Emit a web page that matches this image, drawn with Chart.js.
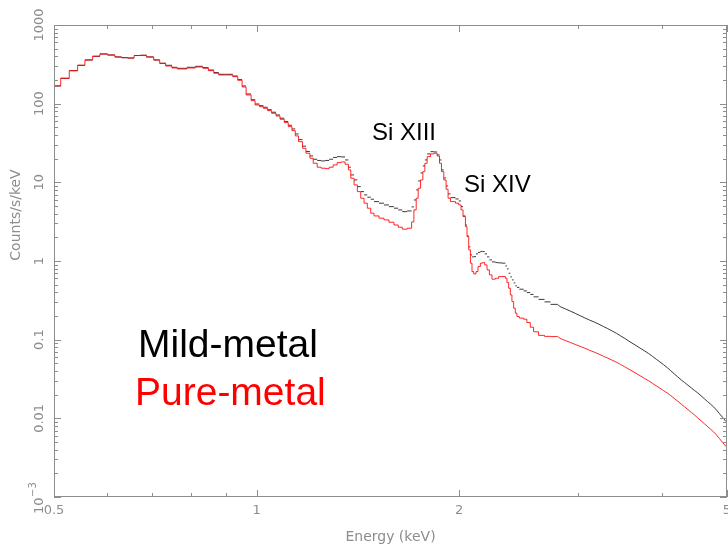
<!DOCTYPE html>
<html>
<head>
<meta charset="utf-8">
<script src="https://cdn.jsdelivr.net/npm/chart.js@4.4.1/dist/chart.umd.min.js"></script>
<style>
  body { margin: 0; background: #fff; }
  canvas { display: block; }
</style>
</head>
<body>
<canvas id="myChart" width="728" height="547"></canvas>
<script>
// bin edges in keV (one more than the values)
const energyEdges = [
  0.500, 0.5116, 0.5268, 0.5421, 0.5558, 0.5706, 0.5850, 0.6006, 0.6157, 0.6299,
  0.6436, 0.6576, 0.6716, 0.6860, 0.7032, 0.7178, 0.7326, 0.7485, 0.7625, 0.7750,
  0.7878, 0.8107, 0.8320, 0.8484, 0.8639, 0.8787, 0.8990, 0.9217, 0.9376, 0.9517,
  0.9648, 0.9814, 0.9949, 1.0096, 1.0235, 1.0386, 1.0528, 1.0688, 1.0834, 1.0994,
  1.1145, 1.1287, 1.1415, 1.1544, 1.1702, 1.1839, 1.2001, 1.2137, 1.2304, 1.2473,
  1.2644, 1.2818, 1.2994, 1.3172, 1.3353, 1.3537, 1.3690, 1.3802, 1.3959, 1.4117,
  1.4281, 1.4443, 1.4606, 1.4777, 1.4944, 1.5201, 1.5463, 1.5729, 1.5999, 1.6236,
  1.6459, 1.6742, 1.6995, 1.7129, 1.7264, 1.7382, 1.7525, 1.7663, 1.7784, 1.7924,
  1.8133, 1.8338, 1.8545, 1.8698, 1.8826, 1.8974, 1.9123, 1.9254, 1.9413, 1.9747,
  1.9970, 2.0127, 2.0265, 2.0432, 2.0544, 2.0663, 2.0783, 2.0897, 2.1019, 2.1184,
  2.1329, 2.1504, 2.1674, 2.1826, 2.1998, 2.2178, 2.2376, 2.2637, 2.2893, 2.3152,
  2.3422, 2.3551, 2.3688, 2.3825, 2.3956, 2.4095, 2.4235, 2.4368, 2.4568, 2.4931,
  2.5213, 2.5507, 2.5796, 2.6240, 2.6783, 2.7337, 2.80,
  2.85, 2.90, 2.95, 3.00, 3.05, 3.10, 3.15, 3.20, 3.25, 3.30,
  3.35, 3.40, 3.45, 3.50, 3.55, 3.60, 3.65, 3.70, 3.75, 3.80,
  3.85, 3.90, 3.95, 4.00, 4.05, 4.10, 4.15, 4.20, 4.25, 4.30,
  4.35, 4.40, 4.45, 4.50, 4.55, 4.60, 4.65, 4.70, 4.75, 4.80,
  4.85, 4.90, 4.95, 5.00
];
// above this edge the bins are narrow and the spectra look like smooth curves
const tailStart = 2.80;

// counts/s/keV per bin
const pureMetal = [
  167.9, 210.2, 262.6, 307.5, 359.2, 400.3, 428.1, 415.7, 392.2, 384.2,
  380, 409.7, 412.1, 392.2, 359.2, 326.1, 301.3, 284.2, 276.0, 276.0,
  284.2, 292.6, 281.7, 262.6, 243.4, 231.6, 231.6, 220.3, 198.3, 163.0,
  129.0, 109.2, 96.3, 91.6, 87.4, 81.5, 75.5, 69.8, 63.4, 57.4,
  51.0, 45.4, 38.9, 32.9, 27.1,
  23.43, 20.24, 17.48, 15.56, 15.11, 14.93, 15.56, 16.64, 17.80, 18.16,
  16.98, 14.38, 11.27, 9.27, 7.62, 6.28, 5.43, 4.69, 4.05, 3.74,
  3.50, 3.33, 3.11, 2.87, 2.69, 2.54, 2.61, 3.14, 4.46, 6.28,
  8.41, 10.73, 13.68, 17.48, 21.21, 22.96, 23.43, 21.65, 17.48, 13.68,
  10.73, 8.17, 6.28, 5.69, 5.43, 5.16, 4.46, 3.67, 2.74, 2.04,
  1.384, 0.938, 0.733, 0.686, 0.733, 0.849, 0.938, 0.954, 0.892, 0.771,
  0.666, 0.587, 0.604, 0.634, 0.634, 0.604, 0.531, 0.451, 0.371, 0.305,
  0.251, 0.217, 0.197, 0.188, 0.182, 0.165, 0.144, 0.126, 0.1134, 0.1101,
  0.1095,
  0.1039, 0.0977, 0.0921, 0.0869, 0.0822, 0.0778, 0.0733, 0.0694, 0.0656, 0.0617,
  0.0582, 0.0549, 0.0518, 0.0483, 0.0451, 0.0421, 0.0393, 0.0367, 0.0343, 0.0320,
  0.0300, 0.0278, 0.0259, 0.0242, 0.0225, 0.0210, 0.0194, 0.0179, 0.0165, 0.0152,
  0.0140, 0.0129, 0.0119, 0.0110, 0.0101, 0.00932, 0.00857, 0.00791, 0.00729, 0.00674,
  0.00613, 0.00550, 0.00495, 0.00445
];

const mildMetal = [
  167.9, 210.2, 262.6, 307.5, 359.2, 400.3, 428.1, 415.7, 392.2, 384.2,
  380, 409.7, 412.1, 392.2, 359.2, 326.1, 307.3, 289.9, 281.5, 281.5,
  289.9, 298.5, 287.3, 267.9, 248.3, 236.2, 236.2, 224.7, 202.3, 167.9,
  132.8, 112.4, 99.1, 94.3, 90.0, 83.9, 77.8, 71.8, 65.3, 59.4,
  53.1, 47.7, 41.2, 34.9, 28.8,
  24.69, 21.65, 19.66, 18.98, 18.71, 18.98, 19.66, 20.72, 21.21, 21.02,
  19.26, 15.56, 12.42, 10.73, 8.82, 7.62, 6.92, 6.47, 6.10, 5.69,
  5.43, 5.16, 4.91, 4.69, 4.46, 4.24, 4.33, 4.87, 5.97, 8.01,
  10.42, 13.16, 16.16, 19.26, 22.96, 24.55, 24.33, 22.30, 19.26, 14.38,
  11.37, 9.00, 7.12, 6.39, 6.15, 5.80, 4.91, 3.74, 2.87, 2.08,
  1.511, 1.195, 1.127, 1.137, 1.231, 1.286, 1.324, 1.316, 1.231, 1.127,
  1.033, 0.974, 0.954, 0.946, 0.938, 0.866, 0.794, 0.700, 0.628, 0.575,
  0.527, 0.483, 0.462, 0.438, 0.417, 0.397, 0.376, 0.350, 0.325, 0.302,
  0.281,
  0.2634, 0.2462, 0.2309, 0.2159, 0.2018, 0.1887, 0.1774, 0.1674, 0.1574, 0.1472,
  0.1380, 0.1290, 0.1206, 0.1117, 0.1035, 0.0957, 0.0890, 0.0827, 0.0768, 0.0716,
  0.0666, 0.0614, 0.0564, 0.0521, 0.0481, 0.0441, 0.0403, 0.0367, 0.0336, 0.0308,
  0.0285, 0.0263, 0.0244, 0.0226, 0.0210, 0.0194, 0.0178, 0.0164, 0.0152, 0.0140,
  0.0127, 0.0114, 0.0103, 0.00924
];

const xMajor = [0.5, 1, 2, 5];
const xMajorLabels = ["0.5", "1", "2", "5"];
const xMinor = [0.6, 0.7, 0.8, 0.9, 3, 4];
const yMajor = [1000, 100, 10, 1, 0.1, 0.01, 0.001];
const yMajorLabels = ["1000", "100", "10", "1", "0.1", "0.01", "10^-3"];

const xTitle = "Energy (keV)";
const yTitle = "Counts/s/keV";

// histogram part: connected staircase
function stepPoints(edges, vals) {
  const pts = [];
  vals.forEach((v, i) => { if (edges[i] < tailStart) pts.push({ x: edges[i], y: v }); });
  const k = pts.length;
  pts.push({ x: edges[k], y: vals[k - 1] });
  return pts;
}
// histogram part: one horizontal bar per bin, no risers
function barPoints(edges, vals) {
  const pts = [];
  vals.forEach((v, i) => {
    if (edges[i] < tailStart) {
      pts.push({ x: edges[i], y: v }, { x: edges[i + 1], y: v }, { x: edges[i + 1], y: null });
    }
  });
  return pts;
}
// narrow-bin part: through the bin centres
function tailPoints(edges, vals) {
  const pts = [];
  vals.forEach((v, i) => {
    if (edges[i] >= tailStart) {
      if (!pts.length) pts.push({ x: edges[i], y: vals[i - 1] });
      pts.push({ x: Math.sqrt(edges[i] * edges[i + 1]), y: v });
    }
  });
  pts.push({ x: edges[edges.length - 1], y: vals[vals.length - 1] });
  return pts;
}

const axisGray = "#8d8d8d";
const tickFont = '13px "DejaVu Sans", sans-serif';
const redLine = "rgba(255,0,0,0.85)";
const blackLine = "#3a3a3a";

const frame = {
  id: "frame",
  afterDraw(chart) {
    const ctx = chart.ctx;
    const a = chart.chartArea;
    const xs = chart.scales.x;
    const ys = chart.scales.y;
    ctx.save();
    ctx.strokeStyle = axisGray;
    ctx.lineWidth = 1;
    ctx.strokeRect(a.left + 0.5, a.top + 0.5, a.right - a.left - 1, a.bottom - a.top - 1);

    ctx.beginPath();
    const xTick = (v, len) => {
      const px = Math.round(xs.getPixelForValue(v)) + 0.5;
      ctx.moveTo(px, a.bottom); ctx.lineTo(px, a.bottom - len);
      ctx.moveTo(px, a.top); ctx.lineTo(px, a.top + len);
    };
    xMajor.forEach(v => xTick(v, 7));
    xMinor.forEach(v => xTick(v, 4));
    const yTick = (v, len) => {
      const py = Math.round(ys.getPixelForValue(v)) + 0.5;
      ctx.moveTo(a.left, py); ctx.lineTo(a.left + len, py);
      ctx.moveTo(a.right, py); ctx.lineTo(a.right - len, py);
    };
    yMajor.forEach(v => yTick(v, 7));
    yMajor.slice(1).forEach(d => {
      for (let m = 2; m < 10; m++) yTick(d * m, 4);
    });
    ctx.stroke();

    // tick labels
    ctx.fillStyle = axisGray;
    ctx.font = tickFont;
    ctx.textAlign = "center";
    ctx.textBaseline = "middle";
    xMajor.forEach((v, i) => {
      ctx.fillText(xMajorLabels[i], xs.getPixelForValue(v), 511);
    });
    yMajor.forEach((v, i) => {
      const py = ys.getPixelForValue(v);
      ctx.save();
      ctx.translate(40, py);
      ctx.rotate(-Math.PI / 2);
      const lab = yMajorLabels[i];
      if (lab.indexOf("^") > 0) {
        const parts = lab.split("^");
        ctx.textAlign = "left";
        ctx.fillText(parts[0], -17, 0);
        ctx.font = '10px "DejaVu Sans", sans-serif';
        ctx.fillText(parts[1].replace("-", "\u2212"), 0, -7);
      } else {
        ctx.fillText(lab, 0, 0);
      }
      ctx.restore();
    });

    // axis titles
    ctx.font = '14px "DejaVu Sans", sans-serif';
    ctx.textAlign = "center";
    ctx.fillText(xTitle, (a.left + a.right) / 2, 537);
    ctx.save();
    ctx.translate(16, 215);
    ctx.rotate(-Math.PI / 2);
    ctx.fillText(yTitle, 0, 0);
    ctx.restore();

    // line labels
    ctx.fillStyle = "#000";
    ctx.textAlign = "left";
    ctx.textBaseline = "alphabetic";
    ctx.font = '24px "Liberation Sans", Arial, sans-serif';
    ctx.fillText("Si XIII", 372, 140);
    ctx.fillText("Si XIV", 464, 192);

    ctx.font = '39px "Liberation Sans", Arial, sans-serif';
    ctx.fillText("Mild-metal", 138, 357);
    ctx.fillStyle = "#ff0000";
    ctx.fillText("Pure-metal", 135, 405);
    ctx.restore();
  }
};

const common = { borderWidth: 1, pointRadius: 0, fill: false, spanGaps: false };

new Chart("myChart", {
  type: "line",
  data: {
    datasets: [
      Object.assign({ label: "Pure-metal", data: stepPoints(energyEdges, pureMetal),
        borderColor: redLine, stepped: true }, common),
      Object.assign({ label: "Pure-metal tail", data: tailPoints(energyEdges, pureMetal),
        borderColor: redLine }, common),
      Object.assign({ label: "Mild-metal", data: barPoints(energyEdges, mildMetal),
        borderColor: blackLine }, common),
      Object.assign({ label: "Mild-metal tail", data: tailPoints(energyEdges, mildMetal),
        borderColor: blackLine }, common)
    ]
  },
  options: {
    responsive: false,
    animation: false,
    layout: { padding: { left: 54, right: 1, top: 25, bottom: 50 } },
    plugins: { legend: { display: false }, tooltip: { enabled: false } },
    scales: {
      x: { type: "logarithmic", min: 0.5, max: 5, display: false },
      y: { type: "logarithmic", min: 0.001, max: 1000, display: false }
    }
  },
  plugins: [frame]
});
</script>
</body>
</html>
